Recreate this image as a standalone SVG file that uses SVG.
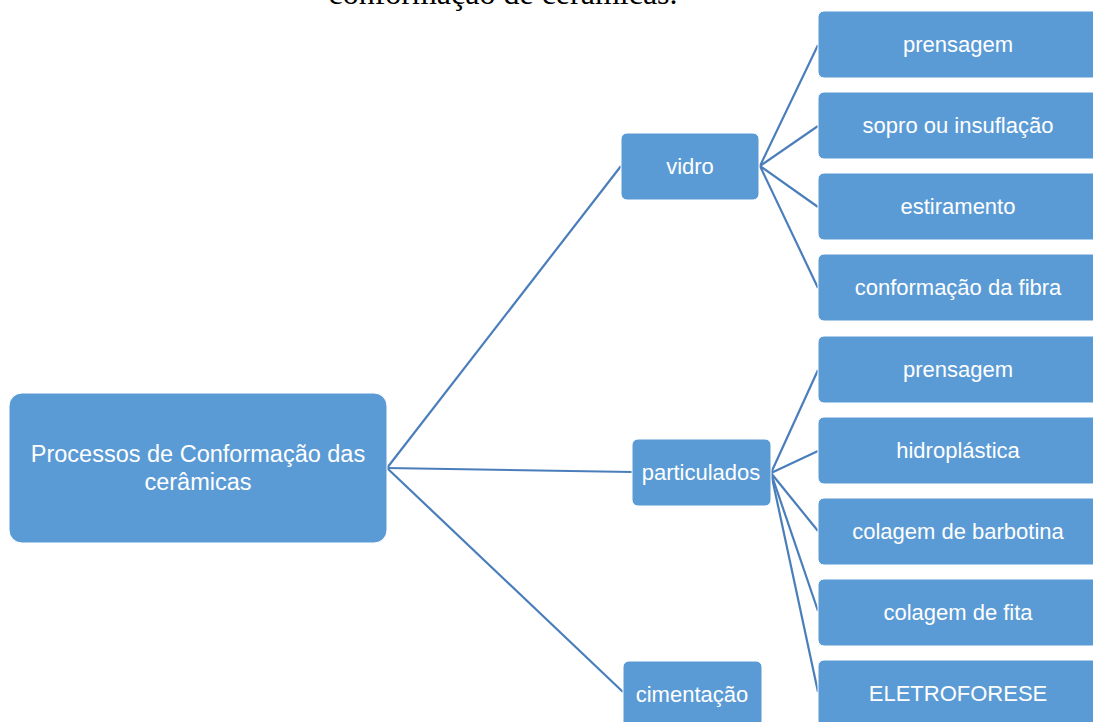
<svg xmlns="http://www.w3.org/2000/svg" width="1093" height="722" viewBox="0 0 1093 722">
<style>
.box{fill:#5b9bd5;stroke:#ffffff;stroke-width:1}
.t{font-family:"Liberation Sans",Arial,sans-serif;font-size:22px;fill:#ffffff;text-anchor:middle}
.big{font-size:23.5px}
.c{stroke:#4a7ebb;stroke-width:2.2;fill:none}
.cap{font-family:"Liberation Serif","Times New Roman",serif;font-size:32px;fill:#000000;text-anchor:middle}
</style>
<rect width="1093" height="722" fill="#ffffff"/>
<text class="cap" x="503" y="4">conformação de cerâmicas.</text>
<g id="connectors">
<line class="c" x1="387" y1="468" x2="621" y2="166"/>
<line class="c" x1="387" y1="468" x2="632" y2="472"/>
<line class="c" x1="387" y1="468" x2="623" y2="692"/>
<line class="c" x1="760" y1="166" x2="818" y2="45"/>
<line class="c" x1="760" y1="166" x2="818" y2="126"/>
<line class="c" x1="760" y1="166" x2="818" y2="207"/>
<line class="c" x1="760" y1="166" x2="818" y2="288"/>
<line class="c" x1="771" y1="473" x2="818" y2="370"/>
<line class="c" x1="771" y1="473" x2="818" y2="451"/>
<line class="c" x1="771" y1="473" x2="818" y2="531"/>
<line class="c" x1="771" y1="473" x2="818" y2="611"/>
<line class="c" x1="771" y1="473" x2="818" y2="692"/>
</g>
<g id="root"><rect class="box" x="9" y="393" width="378" height="150" rx="13"/><text class="t big" x="198" y="462">Processos de Conformação das</text><text class="t big" x="198" y="490">cerâmicas</text></g>
<g id="vidro"><rect class="box" x="621" y="133" width="138" height="67" rx="6"/><text class="t" x="690" y="174">vidro</text></g>
<g id="particulados"><rect class="box" x="632" y="439" width="139" height="67" rx="6"/><text class="t" x="701" y="480">particulados</text></g>
<g id="cimentacao"><rect class="box" x="623" y="661" width="139" height="67" rx="6"/><text class="t" x="692" y="702">cimentação</text></g>
<g id="v1"><rect class="box" x="818" y="11" width="282" height="67" rx="6"/><text class="t" x="958" y="52">prensagem</text></g>
<g id="v2"><rect class="box" x="818" y="92" width="282" height="67" rx="6"/><text class="t" x="958" y="133">sopro ou insuflação</text></g>
<g id="v3"><rect class="box" x="818" y="173" width="282" height="67" rx="6"/><text class="t" x="958" y="214">estiramento</text></g>
<g id="v4"><rect class="box" x="818" y="254" width="282" height="67" rx="6"/><text class="t" x="958" y="295">conformação da fibra</text></g>
<g id="p1"><rect class="box" x="818" y="336" width="282" height="67" rx="6"/><text class="t" x="958" y="377">prensagem</text></g>
<g id="p2"><rect class="box" x="818" y="417" width="282" height="67" rx="6"/><text class="t" x="958" y="458">hidroplástica</text></g>
<g id="p3"><rect class="box" x="818" y="498" width="282" height="67" rx="6"/><text class="t" x="958" y="539">colagem de barbotina</text></g>
<g id="p4"><rect class="box" x="818" y="579" width="282" height="67" rx="6"/><text class="t" x="958" y="620">colagem de fita</text></g>
<g id="p5"><rect class="box" x="818" y="660" width="282" height="67" rx="6"/><text class="t" x="958" y="701">ELETROFORESE</text></g>
</svg>
